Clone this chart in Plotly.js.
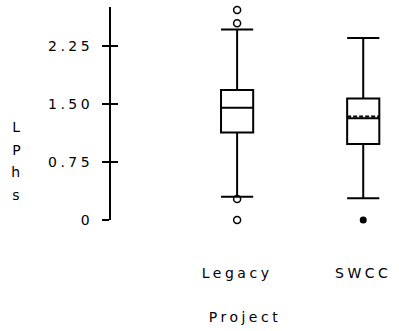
<!DOCTYPE html>
<html>
<head>
<meta charset="utf-8">
<script src="https://cdn.plot.ly/plotly-3.0.1.min.js"></script>
<style>
  html, body { margin: 0; padding: 0; background: #fff; }
  #chart { width: 399px; height: 331px; }
  .main-svg text { letter-spacing: 3.5px; }
</style>
</head>
<body>
<div id="chart"></div>
<script>
// Box summary per project (LPhs)
const projects = ['Legacy', 'SWCC'];
const q1 = [1.13, 0.98];
const medians = [1.45, 1.315];
const q3 = [1.68, 1.57];
const lowerFence = [0.30, 0.28];
const upperFence = [2.46, 2.35];
const means = [1.43, 1.335];

// Outlying observations
const legacyOutliers = [2.71, 2.54, 0.27, 0.0];
const swccOutliers = [0.0];

// Axis ticks
const yTickVals = [0, 0.75, 1.5, 2.25];
const yTickText = ['0', '0.75', '1.50', '2.25'];

const yTitle = 'LPhs';
const xTitle = 'Project';

const FONT = { family: 'DejaVu Sans', size: 14, color: '#000' };
const LINE = { color: '#000', width: 2 };

const traces = projects.map((p, i) => ({
  type: 'box',
  x: [p],
  q1: [q1[i]],
  median: [medians[i]],
  q3: [q3[i]],
  lowerfence: [lowerFence[i]],
  upperfence: [upperFence[i]],
  mean: [means[i]],
  boxmean: p === 'SWCC',
  boxpoints: false,
  width: 0.255,
  whiskerwidth: 1,
  line: LINE,
  fillcolor: 'rgba(255,255,255,0)',
  showlegend: false,
  hoverinfo: 'skip'
}));

traces.push({
  type: 'scatter', mode: 'markers',
  x: legacyOutliers.map(() => projects[0]),
  y: legacyOutliers,
  marker: { symbol: 'circle-open', size: 7, color: '#000', line: { width: 1.5, color: '#000' } },
  cliponaxis: false, showlegend: false, hoverinfo: 'skip'
});
traces.push({
  type: 'scatter', mode: 'markers',
  x: swccOutliers.map(() => projects[1]),
  y: swccOutliers,
  marker: { symbol: 'circle', size: 7, color: '#000' },
  cliponaxis: false, showlegend: false, hoverinfo: 'skip'
});
// carrier for the inner tick marks of the value axis
traces.push({ type: 'scatter', x: [], y: [], yaxis: 'y2', showlegend: false, hoverinfo: 'skip' });

// vertical, letter-by-letter value axis title
const titleLetters = yTitle.split('').map((ch, i) => ({
  text: ch, xref: 'paper', yref: 'paper',
  x: -0.33, xanchor: 'center',
  y: (220 - (127 + i * 22.5)) / 213, yanchor: 'middle',
  showarrow: false, font: FONT
}));

const layout = {
  width: 399, height: 331, autosize: false,
  margin: { l: 111, r: 5, t: 7, b: 111 },
  paper_bgcolor: '#fff', plot_bgcolor: '#fff',
  font: FONT,
  showlegend: false,
  xaxis: {
    type: 'category', categoryorder: 'array', categoryarray: projects,
    range: [-1.0, 1.244],
    showline: false, showgrid: false, zeroline: false,
    ticks: '', ticklabelstandoff: 43,
    tickfont: FONT
  },
  yaxis: {
    range: [0, 2.75],
    tickvals: yTickVals, ticktext: yTickText,
    showline: true, linecolor: '#000', linewidth: 2,
    ticks: 'outside', ticklen: 7, tickwidth: 2, tickcolor: '#000',
    ticklabelstandoff: 6,
    showgrid: false, zeroline: false,
    tickfont: FONT
  },
  yaxis2: {
    overlaying: 'y', side: 'left', range: [0, 2.75],
    tickvals: yTickVals,
    ticks: 'inside', ticklen: 7, tickwidth: 2, tickcolor: '#000',
    showticklabels: false, showline: false, showgrid: false, zeroline: false
  },
  annotations: titleLetters.concat([{
    text: xTitle, xref: 'paper', yref: 'paper',
    x: (245 - 111) / 283, xanchor: 'center',
    y: (220 - 317) / 213, yanchor: 'middle',
    showarrow: false, font: FONT
  }])
};

Plotly.newPlot('chart', traces, layout, { staticPlot: true, displayModeBar: false });
</script>
</body>
</html>
